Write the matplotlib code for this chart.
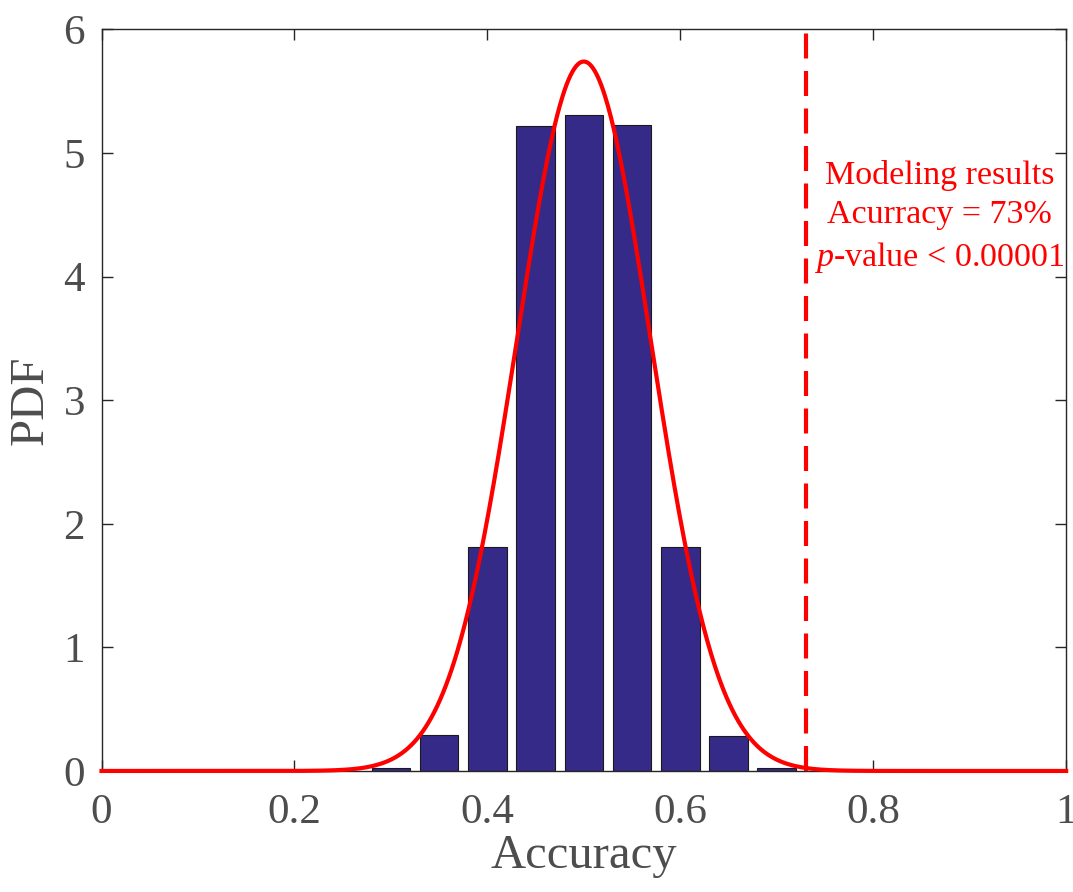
import matplotlib
matplotlib.use("Agg")
import matplotlib.pyplot as plt
import numpy as np

# Données : histogramme de la précision (PDF) + loi normale ajustée
centres = [0.30, 0.35, 0.40, 0.45, 0.50, 0.55, 0.60, 0.65, 0.70]
pdf_barres = [0.02, 0.29, 1.81, 5.22, 5.31, 5.23, 1.81, 0.28, 0.02]
moyenne = 0.5
ecart_type = 0.0695
resultat_modele = 0.73
texte_modele = "Modeling results\nAcurracy = 73%\n$p$-value < 0.00001"

plt.rcParams['font.family'] = ['Liberation Serif', 'DejaVu Serif']
plt.rcParams['mathtext.fontset'] = 'custom'
plt.rcParams['mathtext.it'] = 'Liberation Serif:italic'
plt.rcParams['mathtext.rm'] = 'Liberation Serif'

fig = plt.figure(figsize=(10.73, 8.92), dpi=100)
ax = fig.add_axes([0.0946, 0.1357, 0.899, 0.8313])

gris = '#4d4d4d'
ax.bar(centres, pdf_barres, width=0.04, color='#352a87', edgecolor='#1a1a1a', linewidth=0.8, zorder=2)

# courbe de la loi normale ajustée
x = np.linspace(0, 1, 1001)
y = np.exp(-0.5 * ((x - moyenne) / ecart_type) ** 2) / (ecart_type * np.sqrt(2 * np.pi))
ax.plot(x, y, color='red', linewidth=3, zorder=3, clip_on=False)

# résultat du modèle (ligne pointillée verticale)
ax.axvline(resultat_modele, color='red', linewidth=3, linestyle=(0, (6, 3)), zorder=3)
ax.text(0.869, 4.48, texte_modele, color='red', fontsize=24.5, ha='center', va='center',
        linespacing=1.38)

ax.set_xlim(0, 1)
ax.set_ylim(0, 6)
ax.set_xticks([0, 0.2, 0.4, 0.6, 0.8, 1])
ax.set_xticklabels(['0', '0.2', '0.4', '0.6', '0.8', '1'])
ax.set_yticks(range(0, 7))
ax.tick_params(direction='in', top=True, right=True, length=8, width=1, colors='#262626',
               labelcolor=gris, labelsize=31)
ax.tick_params(axis='x', pad=16)
ax.tick_params(axis='y', pad=12)
for s in ax.spines.values():
    s.set_color('#262626')
    s.set_linewidth(1)
ax.set_xlabel('Accuracy', fontsize=35, color=gris, labelpad=2)
ax.set_ylabel('PDF', fontsize=35, color=gris, labelpad=8)

fig.savefig('out.png', dpi=100)
